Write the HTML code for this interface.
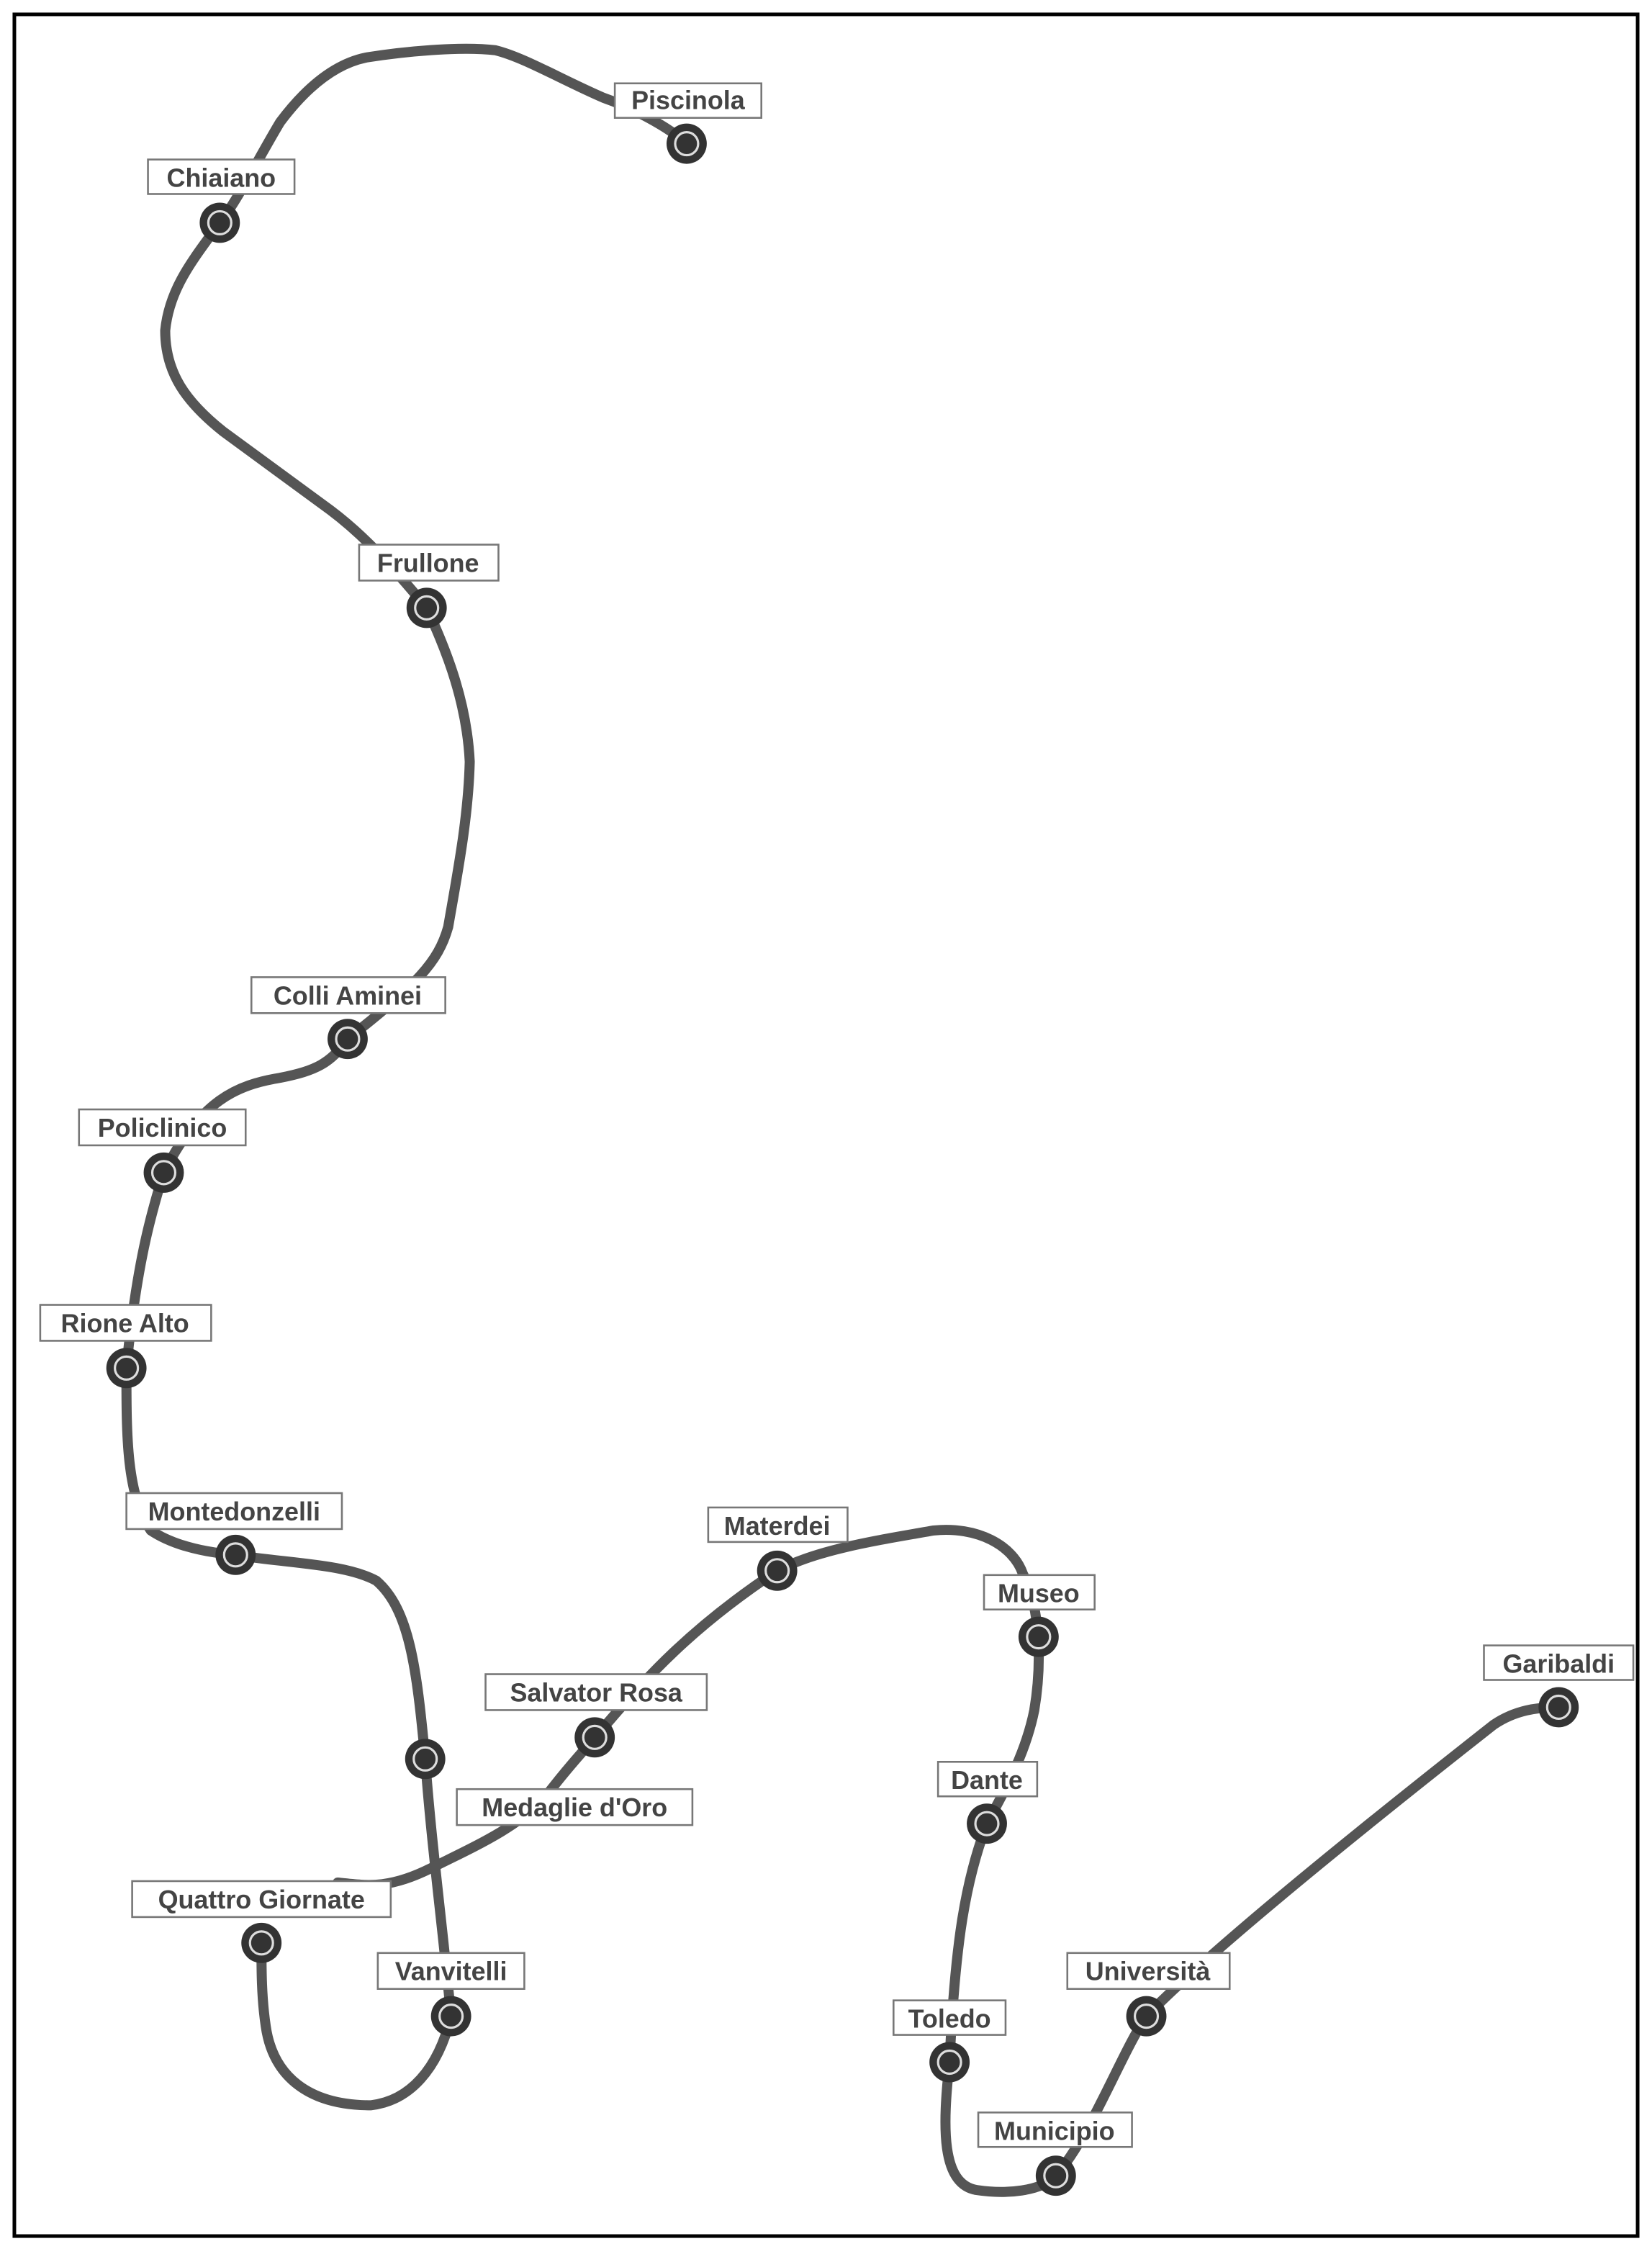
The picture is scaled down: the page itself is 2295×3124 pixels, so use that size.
<!DOCTYPE html>
<html><head><meta charset="utf-8"><style>
html,body{margin:0;padding:0;background:#fff;}
svg{display:block;}
text{font-family:"Liberation Sans",sans-serif;font-weight:bold;font-size:18px;fill:#444;}
</style></head><body>
<svg width="2295" height="3124" viewBox="0 0 1150 1565" preserveAspectRatio="none" xmlns="http://www.w3.org/2000/svg">
<rect x="0" y="0" width="1150" height="1565" fill="#fff"/>
<rect x="10" y="10" width="1130" height="1546" fill="none" stroke="#000" stroke-width="2.5"/>
<g fill="none" stroke="#555" stroke-width="7" stroke-linejoin="round" stroke-linecap="round">
<path d="M478,100 C465,88 440,75 420,68 C390,55 365,40 345,35 C320,32 280,36 255,40 C230,45 210,65 195,85 C180,110 165,140 153,155 C135,180 118,200 115,230 C115,260 130,280 155,300 L230,355 C250,370 270,390 297,423 C312,455 325,490 327,530 C326,570 318,610 312,645 C305,670 290,685 242,723 C230,740 220,745 195,750 C165,755 140,765 114,816 C105,845 95,880 88,952 C88,1000 88,1040 105,1065 C120,1075 140,1080 164,1082 C200,1088 240,1088 262,1100 C285,1120 290,1160 296,1224 C300,1280 308,1340 314,1403 C305,1440 285,1462 258,1465 C215,1465 190,1445 185,1410 C182,1390 182,1370 182,1352"/>
<path d="M235,1310 C255,1312 270,1315 300,1300 C330,1285 360,1272 380,1250 C395,1230 405,1220 414,1209 C440,1180 470,1140 541,1093 C570,1078 610,1072 650,1065 C680,1062 705,1075 712,1095 C725,1120 725,1160 720,1190 C714,1220 700,1245 687,1269 C672,1310 665,1350 661,1435 C656,1480 655,1520 680,1524 C700,1527 725,1525 735,1514 C760,1485 780,1430 798,1403 C830,1370 900,1310 1040,1200 C1055,1190 1070,1188 1085,1188"/>
</g>
<g id="st">
</g>
<g fill="#333">
<circle cx="478" cy="100" r="14"/><circle cx="153" cy="155" r="14"/><circle cx="297" cy="423" r="14"/>
<circle cx="242" cy="723" r="14"/><circle cx="114" cy="816" r="14"/><circle cx="88" cy="952" r="14"/>
<circle cx="164" cy="1082" r="14"/><circle cx="296" cy="1224" r="14"/><circle cx="414" cy="1209" r="14"/>
<circle cx="182" cy="1352" r="14"/><circle cx="314" cy="1403" r="14"/><circle cx="541" cy="1093" r="14"/>
<circle cx="723" cy="1139" r="14"/><circle cx="687" cy="1269" r="14"/><circle cx="661" cy="1435" r="14"/>
<circle cx="735" cy="1514" r="14"/><circle cx="798" cy="1403" r="14"/><circle cx="1085" cy="1188" r="14"/>
</g>
<g fill="none" stroke="#ddd" stroke-width="1.6">
<circle cx="478" cy="100" r="8"/><circle cx="153" cy="155" r="8"/><circle cx="297" cy="423" r="8"/>
<circle cx="242" cy="723" r="8"/><circle cx="114" cy="816" r="8"/><circle cx="88" cy="952" r="8"/>
<circle cx="164" cy="1082" r="8"/><circle cx="296" cy="1224" r="8"/><circle cx="414" cy="1209" r="8"/>
<circle cx="182" cy="1352" r="8"/><circle cx="314" cy="1403" r="8"/><circle cx="541" cy="1093" r="8"/>
<circle cx="723" cy="1139" r="8"/><circle cx="687" cy="1269" r="8"/><circle cx="661" cy="1435" r="8"/>
<circle cx="735" cy="1514" r="8"/><circle cx="798" cy="1403" r="8"/><circle cx="1085" cy="1188" r="8"/>
</g>
<g fill="#fff" stroke="#777" stroke-width="1.3">
<rect x="428" y="58" width="102" height="24"/>
<rect x="103" y="111" width="102" height="24"/>
<rect x="250" y="379" width="97" height="25"/>
<rect x="175" y="680" width="135" height="25"/>
<rect x="55" y="772" width="116" height="25"/>
<rect x="28" y="908" width="119" height="25"/>
<rect x="88" y="1039" width="150" height="25"/>
<rect x="338" y="1165" width="154" height="25"/>
<rect x="318" y="1245" width="164" height="25"/>
<rect x="92" y="1309" width="180" height="25"/>
<rect x="263" y="1359" width="102" height="25"/>
<rect x="493" y="1049" width="97" height="24"/>
<rect x="685" y="1096" width="77" height="24"/>
<rect x="653" y="1226" width="69" height="24"/>
<rect x="622" y="1392" width="78" height="24"/>
<rect x="681" y="1470" width="107" height="24"/>
<rect x="743" y="1359" width="113" height="25"/>
<rect x="1033" y="1145" width="104" height="24"/>
</g>
<g text-anchor="middle">
<text x="479" y="76">Piscinola</text>
<text x="154" y="130">Chiaiano</text>
<text x="298" y="398">Frullone</text>
<text x="242" y="699">Colli Aminei</text>
<text x="113" y="791">Policlinico</text>
<text x="87" y="927">Rione Alto</text>
<text x="163" y="1058">Montedonzelli</text>
<text x="415" y="1184">Salvator Rosa</text>
<text x="400" y="1264">Medaglie d'Oro</text>
<text x="182" y="1328">Quattro Giornate</text>
<text x="314" y="1378">Vanvitelli</text>
<text x="541" y="1068">Materdei</text>
<text x="723" y="1115">Museo</text>
<text x="687" y="1245">Dante</text>
<text x="661" y="1411">Toledo</text>
<text x="734" y="1489">Municipio</text>
<text x="799" y="1378">Università</text>
<text x="1085" y="1164">Garibaldi</text>
</g>
</svg>
</body></html>
